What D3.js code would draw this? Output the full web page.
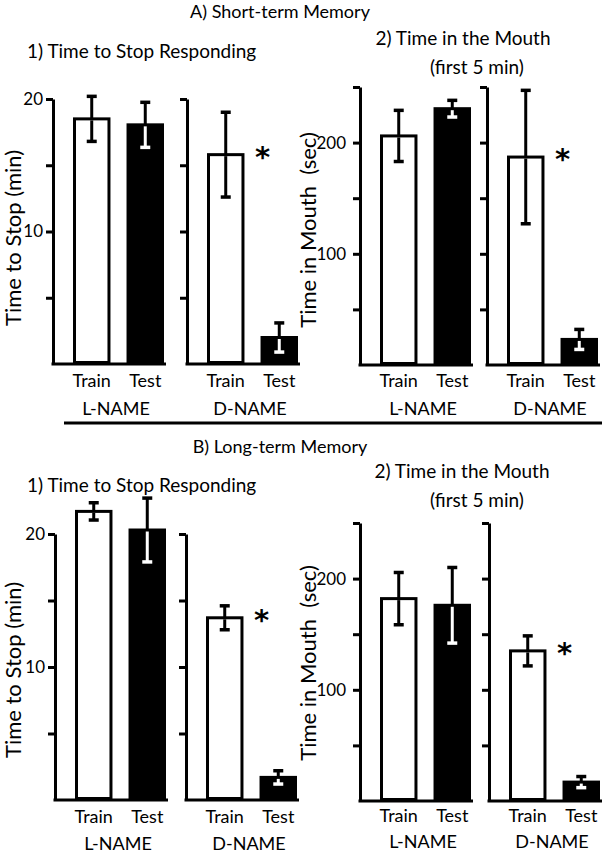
<!DOCTYPE html>
<html>
<head>
<meta charset="utf-8">
<script src="https://cdn.jsdelivr.net/npm/d3@7"></script>
<style>
body { margin: 0; background: #fff; }
text { font-family: Lato, "Open Sans", sans-serif; fill: #000; }
</style>
</head>
<body>
<svg id="chart" width="604" height="853"></svg>
<script>
var width = 604;
var height = 853;
var svg = d3.select("#chart");

var conditions = ["Train", "Test"];
var drugs = ["L-NAME", "D-NAME"];

var stopTicks = [5, 10, 15, 20];
var stopTickLabels = [10, 20];
var mouthTicks = [50, 100, 150, 200, 250];
var mouthTickLabels = [100, 200];

// values per drug: [L-NAME, D-NAME], each [Train, Test]
var shortStopMean = [[18.5, 18.05], [15.8, 2.0]];
var shortStopErr = [[1.7, 1.7], [3.2, 1.1]];
var shortMouthMean = [[206, 230.5], [187, 23]];
var shortMouthErr = [[23, 7.5], [60, 9]];
var longStopMean = [[21.7, 20.3], [13.7, 1.7]];
var longStopErr = [[0.65, 2.4], [0.9, 0.5]];
var longMouthMean = [[182, 176], [135, 17]];
var longMouthErr = [[23.5, 34], [13.5, 5]];
var significant = [[false, false], [true, false]];

function drawPanel(p) {
    var g = svg.append("g");
    var y = d3.scaleLinear().domain([0, p.max]).range([p.bottom, p.top]);

    drugs.forEach(function(drug, di) {
        var ax = p.axisX[di];
        var x = d3.scaleBand().domain(conditions)
            .range([ax + 20, ax + 111]).paddingInner(0.3);

        // axis
        var axis = d3.axisLeft(y).tickValues(p.ticks).tickSize(7).tickSizeOuter(0)
            .tickPadding(p.pad)
            .tickFormat(function(d) { return di == 0 && p.tickLabels.indexOf(d) >= 0 ? d : ""; });
        var ag = g.append("g").attr("transform", "translate(" + ax + ",0)").call(axis);
        ag.select(".domain").attr("stroke", "#000").attr("stroke-width", 3);
        ag.selectAll(".tick line").attr("stroke", "#000").attr("stroke-width", 3);
        ag.selectAll(".tick text").style("font-size", "17px").attr("fill", "#000");

        // baseline
        g.append("line")
            .attr("x1", ax - 1.5).attr("x2", ax + 113)
            .attr("y1", y(0)).attr("y2", y(0))
            .attr("stroke", "#000").attr("stroke-width", 3);

        var rows = conditions.map(function(c, ci) {
            return {cond: c, i: ci, mean: p.mean[di][ci], err: p.err[di][ci]};
        });

        g.selectAll(null).data(rows).enter().append("rect")
            .attr("x", function(d) { return x(d.cond) + 1.5; })
            .attr("width", x.bandwidth() - 3)
            .attr("y", function(d) { return y(d.mean); })
            .attr("height", function(d) { return y(0) - y(d.mean) - 1.5; })
            .attr("fill", function(d) { return d.i == 0 ? "#fff" : "#000"; })
            .attr("stroke", "#000")
            .attr("stroke-width", 3);

        rows.forEach(function(d) {
            var cx = x(d.cond) + x.bandwidth() / 2;
            var inner = d.i == 0 ? "#000" : "#fff";
            // upper half
            g.append("line").attr("x1", cx).attr("x2", cx)
                .attr("y1", y(d.mean + d.err)).attr("y2", y(d.mean))
                .attr("stroke", "#000").attr("stroke-width", 3);
            g.append("line").attr("x1", cx - 5).attr("x2", cx + 5)
                .attr("y1", y(d.mean + d.err)).attr("y2", y(d.mean + d.err))
                .attr("stroke", "#000").attr("stroke-width", 3.5);
            // lower half
            g.append("line").attr("x1", cx).attr("x2", cx)
                .attr("y1", y(d.mean) + 1.5).attr("y2", y(d.mean - d.err))
                .attr("stroke", inner).attr("stroke-width", 3);
            g.append("line").attr("x1", cx - 5).attr("x2", cx + 5)
                .attr("y1", y(d.mean - d.err)).attr("y2", y(d.mean - d.err))
                .attr("stroke", inner).attr("stroke-width", 3.5);

            if (significant[di][d.i]) {
                g.append("text")
                    .attr("x", x(d.cond) + x.bandwidth() + 18)
                    .attr("y", y(d.mean) + 12)
                    .attr("text-anchor", "middle")
                    .style("font-family", "'DejaVu Sans', sans-serif")
                    .style("font-size", "29px")
                    .style("font-weight", "bold")
                    .text("*");
            }
        });

        // category labels
        g.selectAll(null).data(conditions).enter().append("text")
            .attr("x", function(d) { return x(d) + x.bandwidth() / 2; })
            .attr("y", p.catY)
            .attr("text-anchor", "middle")
            .style("font-size", "18px")
            .text(function(d) { return d; });

        g.append("text")
            .attr("x", ax + 63)
            .attr("y", p.drugY)
            .attr("text-anchor", "middle")
            .style("font-size", "18px")
            .text(drug);
    });

    // y label
    g.append("text")
        .attr("transform", "translate(" + p.labelX + "," + p.labelY + ") rotate(-90)")
        .attr("text-anchor", "middle")
        .style("font-size", "22px")
        .style("white-space", "pre")
        .text(p.ylabel);

    // titles
    p.titles.forEach(function(t) {
        g.append("text")
            .attr("x", t.x).attr("y", t.y)
            .attr("text-anchor", t.anchor)
            .style("font-size", "19px")
            .text(t.text);
    });
}

// section headers and divider
svg.append("text").attr("x", 280).attr("y", 18).attr("text-anchor", "middle")
    .style("font-size", "18px").text("A) Short-term Memory");
svg.append("text").attr("x", 280).attr("y", 453).attr("text-anchor", "middle")
    .style("font-size", "18px").text("B) Long-term Memory");
svg.append("line").attr("x1", 64).attr("x2", 602).attr("y1", 423).attr("y2", 423)
    .attr("stroke", "#000").attr("stroke-width", 3);

drawPanel({
    max: 20, top: 99, bottom: 364, axisX: [53, 187], pad: 3,
    ticks: stopTicks, tickLabels: stopTickLabels,
    mean: shortStopMean, err: shortStopErr,
    catY: 387, drugY: 415,
    labelX: 21, labelY: 238, ylabel: "Time to Stop (min)",
    titles: [{x: 27, y: 58, anchor: "start", text: "1) Time to Stop Responding"}]
});

drawPanel({
    max: 250, top: 87, bottom: 365, axisX: [360, 487], pad: 7,
    ticks: mouthTicks, tickLabels: mouthTickLabels,
    mean: shortMouthMean, err: shortMouthErr,
    catY: 387, drugY: 415,
    labelX: 316, labelY: 230, ylabel: "Time in Mouth  (sec)",
    titles: [{x: 463, y: 45, anchor: "middle", text: "2) Time in the Mouth"},
             {x: 477, y: 74, anchor: "middle", text: "(first 5 min)"}]
});

drawPanel({
    max: 20, top: 534, bottom: 800, axisX: [55, 186], pad: 3,
    ticks: stopTicks, tickLabels: stopTickLabels,
    mean: longStopMean, err: longStopErr,
    catY: 823, drugY: 850,
    labelX: 21, labelY: 670, ylabel: "Time to Stop (min)",
    titles: [{x: 27, y: 492, anchor: "start", text: "1) Time to Stop Responding"}]
});

drawPanel({
    max: 250, top: 523, bottom: 801, axisX: [360, 489], pad: 7,
    ticks: mouthTicks, tickLabels: mouthTickLabels,
    mean: longMouthMean, err: longMouthErr,
    catY: 822, drugY: 848,
    labelX: 316, labelY: 663, ylabel: "Time in Mouth  (sec)",
    titles: [{x: 462, y: 478, anchor: "middle", text: "2) Time in the Mouth"},
             {x: 477, y: 507, anchor: "middle", text: "(first 5 min)"}]
});
</script>
</body>
</html>
